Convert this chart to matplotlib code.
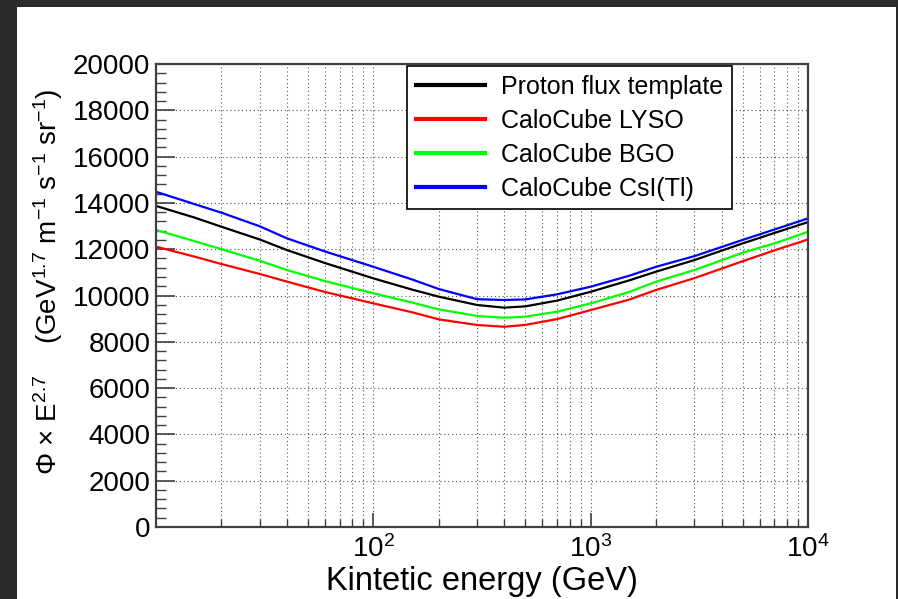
import numpy as np
import matplotlib
matplotlib.use("Agg")
import matplotlib.pyplot as plt
import matplotlib.ticker as ticker
from matplotlib.patches import Rectangle

plt.rcParams['font.family'] = ['Liberation Sans', 'DejaVu Sans']
plt.rcParams['mathtext.fontset'] = 'custom'
plt.rcParams['mathtext.rm'] = 'Liberation Sans'
plt.rcParams['mathtext.it'] = 'Liberation Sans:italic'
plt.rcParams['mathtext.bf'] = 'Liberation Sans:bold'

# kinetic energy (GeV) and flux x E^2.7
energy = [10, 15, 20, 30, 40, 60, 100, 150, 200, 300, 400, 500, 700,
          1000, 1500, 2000, 3000, 5000, 7000, 10000]
template = [13870, 13370, 12970, 12420, 11965, 11400, 10740, 10260, 9950, 9590,
            9475, 9530, 9780, 10160, 10650, 11030, 11530, 12250, 12700, 13170]
lyso = [12110, 11680, 11360, 10930, 10600, 10150, 9660, 9280, 8970, 8726,
        8650, 8730, 8980, 9370, 9820, 10240, 10750, 11480, 11950, 12420]
bgo = [12830, 12350, 12000, 11500, 11100, 10620, 10095, 9700, 9400, 9114,
       9040, 9084, 9300, 9660, 10150, 10600, 11100, 11850, 12250, 12750]
csi = [14480, 13950, 13577, 12990, 12470, 11900, 11240, 10700, 10280, 9840,
       9806, 9830, 10050, 10380, 10850, 11240, 11700, 12400, 12850, 13330]

labels = ["Proton flux template", "CaloCube LYSO", "CaloCube BGO", "CaloCube CsI(Tl)"]
colors = ["#000000", "#ff0000", "#00ff00", "#0000ff"]
xticks = [100, 1000, 10000]

fig = plt.figure(figsize=(8.98, 5.99), dpi=100, facecolor="#2b2b2b")
fig.add_artist(Rectangle((17/898, 0), (896-17)/898, 592/599,
                         transform=fig.transFigure, facecolor="white",
                         edgecolor="none", zorder=-10))
ax = fig.add_axes([156/898, 72/599, 652/898, 463/599])

for y, c, lab in zip([template, lyso, bgo, csi], colors, labels):
    ax.plot(energy, y, color=c, lw=1.6, label=lab)

ax.set_xscale("log")
ax.set_xlim(10, 10000)
ax.set_ylim(0, 20000)
ax.xaxis.set_major_locator(ticker.FixedLocator(xticks))
ax.xaxis.set_major_formatter(ticker.LogFormatterSciNotation())
ax.xaxis.set_minor_locator(ticker.LogLocator(base=10, subs=np.arange(2, 10)))
ax.xaxis.set_minor_formatter(ticker.NullFormatter())
ax.yaxis.set_major_locator(ticker.MultipleLocator(2000))
ax.yaxis.set_minor_locator(ticker.MultipleLocator(400))
ax.yaxis.set_major_formatter(ticker.FormatStrFormatter("%d"))

ax.tick_params(axis="y", which="major", direction="in", length=13.7, width=1.2,
               color="#404040", labelsize=20, pad=4)
ax.tick_params(axis="y", which="minor", direction="in", length=7, width=1.0,
               color="#404040")
ax.tick_params(axis="x", which="major", direction="in", length=10, width=1.2,
               color="#404040", labelsize=20, pad=6)
ax.tick_params(axis="x", which="minor", direction="in", length=6, width=1.0,
               color="#404040")

ax.grid(True, which="major", axis="both", color="#555555", lw=0.8, ls=(0, (1, 2.5)))
ax.grid(True, which="minor", axis="x", color="#555555", lw=0.8, ls=(0, (1, 2.5)))
ax.set_axisbelow(True)

for s in ax.spines.values():
    s.set_color("#404040")
    s.set_linewidth(1.6)

ax.set_xlabel("Kintetic energy (GeV)", fontsize=23.5, labelpad=2)
ax.set_ylabel("Φ × E$^{2.7}$    (GeV$^{1.7}$ m$^{-1}$ s$^{-1}$ sr$^{-1}$)",
              fontsize=20, labelpad=6)
ax.yaxis.label.set_y(0.53)

leg = ax.legend(loc="upper left", bbox_to_anchor=(0.385, 0.996), fontsize=18,
                frameon=True, fancybox=False, framealpha=1, edgecolor="black",
                handlelength=2.75, handletextpad=0.65, labelspacing=0.4,
                borderpad=0.35, borderaxespad=0)
leg.get_frame().set_linewidth(1.2)
for h in leg.get_lines():
    h.set_linewidth(3)

fig.savefig("out.png", dpi=100, facecolor=fig.get_facecolor())
